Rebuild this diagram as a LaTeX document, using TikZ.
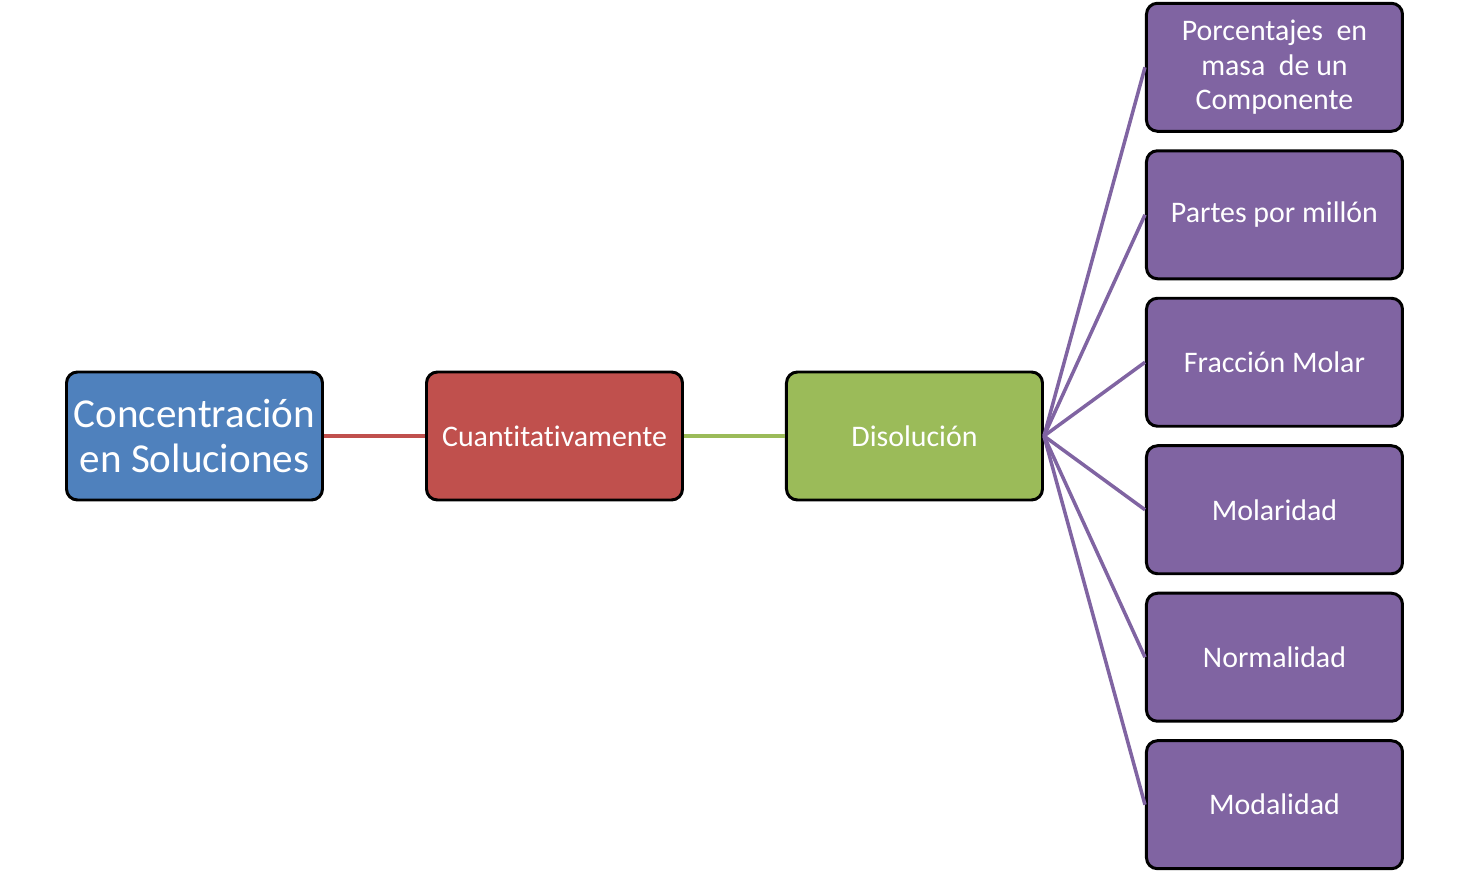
\documentclass[tikz,border=0pt]{standalone}
\usepackage{fontspec}
\setmainfont[Ligatures={NoCommon}]{Carlito}
\usetikzlibrary{positioning}
\definecolor{rootblue}{HTML}{4F81BD}
\definecolor{qred}{HTML}{C0504D}
\definecolor{dgreen}{HTML}{9BBB59}
\definecolor{leafpurple}{HTML}{8064A2}
\tikzset{%
  box/.style={draw=black, line width=1.7pt, rounded corners=2.2mm,
    minimum width=5.12cm, minimum height=2.56cm, inner sep=1mm,
    align=center, text=white, font=\fontsize{17}{19.5}\selectfont},
  root/.style={box, fill=rootblue, font=\fontsize{23.4}{25.5}\selectfont},
  quant/.style={box, fill=qred},
  dis/.style={box, fill=dgreen},
  leaf/.style={box, fill=leafpurple},
  link/.style={line width=2pt},
}
\begin{document}
\begin{tikzpicture}
  \useasboundingbox (0,0) rectangle (29.34,-17.44);

  \node[root] (conc) at (3.89,-8.72) {Concentración\\en Soluciones};
  \node[quant, right=2.02cm of conc] (cuant) {Cuantitativamente};
  \node[dis, right=2.02cm of cuant] (disol) {Disolución};

  \node[leaf, right=2.02cm of disol, yshift=1.475cm] (p3) {Fracción Molar};
  \node[leaf, above=0.33cm of p3] (p2) {Partes por millón};
  \node[leaf, above=0.33cm of p2] (p1) {Porcentajes~ en\\masa~ de un\\Componente};
  \node[leaf, below=0.33cm of p3] (p4) {Molaridad};
  \node[leaf, below=0.33cm of p4] (p5) {Normalidad};
  \node[leaf, below=0.33cm of p5] (p6) {Modalidad};

  \draw[link, qred] (conc) -- (cuant);
  \draw[link, dgreen] (cuant) -- (disol);

  \draw[link, leafpurple] (disol.east) -- (p1.west);
  \draw[link, leafpurple] (disol.east) -- (p2.west);
  \draw[link, leafpurple] (disol.east) -- (p3.west);
  \draw[link, leafpurple] (disol.east) -- (p4.west);
  \draw[link, leafpurple] (disol.east) -- (p5.west);
  \draw[link, leafpurple] (disol.east) -- (p6.west);
\end{tikzpicture}
\end{document}
